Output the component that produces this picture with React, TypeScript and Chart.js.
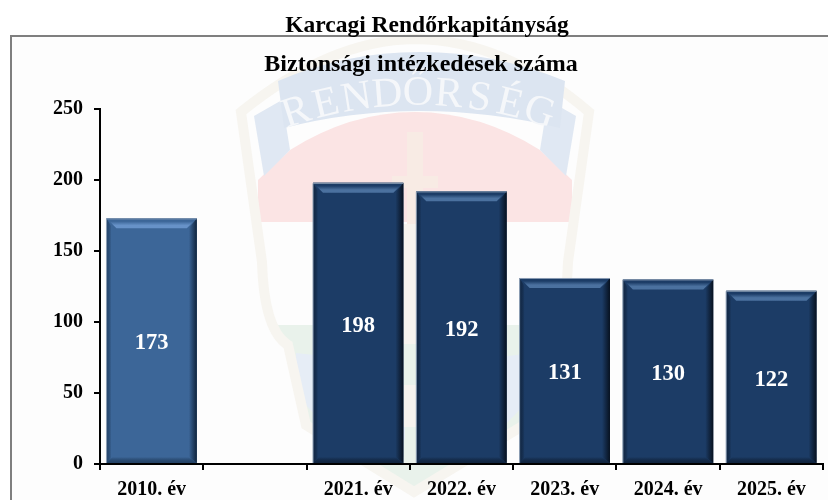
import React, { useEffect, useRef } from "react";
import { Chart, registerables } from "chart.js";

Chart.register(...registerables);

const categories = ["2010. év", "", "2021. év", "2022. év", "2023. év", "2024. év", "2025. év"];
const measures = [173, null, 198, 192, 131, 130, 122];
const barColors = ["#3c6698", "#3c6698", "#1c3c66", "#1c3c66", "#1c3c66", "#1c3c66", "#1c3c66"];
const bandColors = ["#6792c8", "#6792c8", "#4b719f", "#4b719f", "#4b719f", "#4b719f", "#4b719f"];
const edgeColors = ["#10243c", "#10243c", "#07111f", "#07111f", "#07111f", "#07111f", "#07111f"];
const headerText = "Karcagi Rendőrkapitányság";
const titleText = "Biztonsági intézkedések száma";
const crestText = "RENDŐRSÉG";
const yTicks = [0, 50, 100, 150, 200, 250];
const SERIF = "'Liberation Serif', 'Times New Roman', serif";

const path = (ctx: CanvasRenderingContext2D, pts: number[][]) => {
  ctx.beginPath();
  pts.forEach((p, i) => (i ? ctx.lineTo(p[0], p[1]) : ctx.moveTo(p[0], p[1])));
  ctx.closePath();
};

const backdrop = {
  id: "backdrop",
  beforeDraw(chart: any) {
    const ctx: CanvasRenderingContext2D = chart.ctx;
    ctx.save();
    ctx.fillStyle = "#ffffff";
    ctx.fillRect(0, 0, 828, 500);
    ctx.fillStyle = "#fdfdfd";
    ctx.fillRect(11, 35, 817, 465);
    const shield = () => {
      ctx.beginPath();
      ctx.moveTo(241, 112);
      ctx.quadraticCurveTo(330, 40, 415, 39);
      ctx.quadraticCurveTo(505, 40, 589, 112);
      ctx.lineTo(568, 262);
      ctx.quadraticCurveTo(566, 330, 540, 345);
      ctx.lineTo(524, 425);
      ctx.lineTo(414, 492);
      ctx.lineTo(306, 425);
      ctx.lineTo(288, 345);
      ctx.quadraticCurveTo(264, 330, 262, 262);
      ctx.closePath();
    };
    ctx.save();
    shield();
    ctx.clip();
    ctx.fillStyle = "#e9f2eb";
    ctx.fillRect(240, 325, 350, 170);
    ctx.fillStyle = "#e6edf6";
    path(ctx, [[296, 353], [340, 358], [405, 410], [405, 440], [330, 430], [296, 395]]);
    ctx.fill();
    path(ctx, [[534, 353], [490, 358], [425, 410], [425, 440], [500, 430], [534, 395]]);
    ctx.fill();
    ctx.fillStyle = "#fbe4e4";
    ctx.beginPath();
    ctx.moveTo(258, 180);
    ctx.lineTo(290, 150);
    ctx.quadraticCurveTo(350, 112, 415, 112);
    ctx.quadraticCurveTo(480, 112, 540, 150);
    ctx.lineTo(572, 180);
    ctx.lineTo(572, 222);
    ctx.lineTo(258, 222);
    ctx.closePath();
    ctx.fill();
    ctx.restore();
    ctx.fillStyle = "#f8ebe4";
    ctx.fillRect(407, 132, 16, 92);
    ctx.fillRect(392, 176, 46, 12);
    ctx.fillStyle = "#f6f3ee";
    ctx.fillRect(403, 224, 14, 120);
    ctx.fillRect(404, 385, 12, 42);
    shield();
    ctx.strokeStyle = "#f7f5f0";
    ctx.lineWidth = 10;
    ctx.stroke();
    ctx.fillStyle = "#e0e8f3";
    path(ctx, [[254, 116], [282, 100], [290, 150], [264, 176]]);
    ctx.fill();
    path(ctx, [[576, 116], [548, 100], [540, 150], [566, 176]]);
    ctx.fill();
    ctx.fillStyle = "#dce5f1";
    ctx.beginPath();
    ctx.moveTo(278, 81);
    ctx.quadraticCurveTo(345, 52, 420, 52);
    ctx.quadraticCurveTo(495, 52, 565, 81);
    ctx.lineTo(560, 128);
    ctx.quadraticCurveTo(490, 111, 420, 111);
    ctx.quadraticCurveTo(350, 111, 284, 128);
    ctx.closePath();
    ctx.fill();
    ctx.fillStyle = "#f5f7fa";
    ctx.font = `42px ${SERIF}`;
    ctx.textAlign = "center";
    ctx.textBaseline = "alphabetic";
    const cx = 418;
    const cy = 492;
    const radius = 387;
    const letters = Array.from(crestText);
    letters.forEach((ch, i) => {
      const a = (i - (letters.length - 1) / 2) * 0.0775;
      ctx.save();
      ctx.translate(cx + Math.sin(a) * radius, cy - Math.cos(a) * radius);
      ctx.rotate(a);
      ctx.fillText(ch, 0, 0);
      ctx.restore();
    });
    ctx.restore();
  },
};

const bevelAndLabels = {
  id: "bevelAndLabels",
  afterDatasetsDraw(chart: any) {
    const ctx: CanvasRenderingContext2D = chart.ctx;
    const meta = chart.getDatasetMeta(0);
    meta.data.forEach((bar: any, i: number) => {
      const v = measures[i];
      if (v == null) return;
      const { x, y, base, width } = bar.getProps(["x", "y", "base", "width"], true);
      const l = x - width / 2;
      const r = x + width / 2;
      const b = base;
      const s = 10;
      ctx.save();
      let g = ctx.createLinearGradient(0, y, 0, y + s);
      g.addColorStop(0, barColors[i]);
      g.addColorStop(0.3, barColors[i]);
      g.addColorStop(0.7, bandColors[i]);
      g.addColorStop(1, bandColors[i]);
      ctx.fillStyle = g;
      path(ctx, [[l, y], [r, y], [r - s, y + s], [l + s, y + s]]);
      ctx.fill();
      g = ctx.createLinearGradient(r - 8, 0, r, 0);
      g.addColorStop(0, barColors[i]);
      g.addColorStop(1, edgeColors[i]);
      ctx.fillStyle = g;
      path(ctx, [[r, y], [r, b], [r - 8, b - 6], [r - 8, y + s]]);
      ctx.fill();
      g = ctx.createLinearGradient(l, 0, l + 5, 0);
      g.addColorStop(0, edgeColors[i] + "66");
      g.addColorStop(1, barColors[i]);
      ctx.fillStyle = g;
      path(ctx, [[l, y], [l + 6, y + s], [l + 6, b - 6], [l, b]]);
      ctx.fill();
      g = ctx.createLinearGradient(0, b - 6, 0, b);
      g.addColorStop(0, barColors[i]);
      g.addColorStop(1, edgeColors[i] + "88");
      ctx.fillStyle = g;
      path(ctx, [[l + 6, b - 6], [r - 8, b - 6], [r, b], [l, b]]);
      ctx.fill();
      ctx.strokeStyle = "#8b9db3";
      ctx.lineWidth = 1;
      ctx.beginPath();
      ctx.moveTo(l, b);
      ctx.lineTo(l, y + 0.5);
      ctx.lineTo(r, y + 0.5);
      ctx.stroke();
      ctx.fillStyle = "#ffffff";
      ctx.font = `bold 22.5px ${SERIF}`;
      ctx.textAlign = "center";
      ctx.textBaseline = "middle";
      ctx.fillText(String(v), x, (y + b) / 2 + 3);
      ctx.restore();
    });
  },
  afterDraw(chart: any) {
    const ctx: CanvasRenderingContext2D = chart.ctx;
    ctx.save();
    ctx.fillStyle = "#7f7f7f";
    ctx.fillRect(10, 35, 818, 2);
    ctx.fillRect(10, 35, 2, 465);
    ctx.fillStyle = "#000000";
    ctx.font = `bold 23.5px ${SERIF}`;
    ctx.textAlign = "center";
    ctx.textBaseline = "alphabetic";
    ctx.fillText(headerText, 427, 32);
    ctx.restore();
  },
};

export default function App() {
  const ref = useRef<HTMLCanvasElement | null>(null);
  useEffect(() => {
    document.body.style.margin = "0";
    const chart = new Chart(ref.current!, {
      type: "bar",
      data: {
        labels: categories,
        datasets: [
          {
            data: measures as any,
            backgroundColor: barColors,
            barPercentage: 0.875,
            categoryPercentage: 1,
          },
        ],
      },
      plugins: [backdrop, bevelAndLabels],
      options: {
        responsive: false,
        animation: false,
        layout: { padding: { left: 19, right: 5, top: 50, bottom: 0 } },
        plugins: {
          legend: { display: false },
          tooltip: { enabled: false },
          title: {
            display: true,
            text: titleText,
            color: "#000000",
            font: { family: SERIF, size: 24, weight: "bold" },
            padding: { top: 0, bottom: 30.2 },
          },
        },
        scales: {
          x: {
            afterFit: (s: any) => {
              s.height = 36;
            },
            border: { color: "#000000", width: 2 },
            grid: { display: true, drawOnChartArea: false, color: "#000000", lineWidth: 2, tickLength: 6, offset: true },
            ticks: { color: "#000000", font: { family: SERIF, size: 20, weight: "bold" }, maxRotation: 0, autoSkip: false, padding: 8 },
          },
          y: {
            min: 0,
            max: 250,
            afterFit: (s: any) => {
              s.width = 81;
            },
            afterBuildTicks: (s: any) => {
              s.ticks = yTicks.map((value) => ({ value }));
            },
            border: { color: "#000000", width: 2 },
            grid: { display: true, drawOnChartArea: false, color: "#000000", lineWidth: 2, tickLength: 6 },
            ticks: { color: "#000000", font: { family: SERIF, size: 20, weight: "bold" }, padding: 11 },
          },
        },
      },
    } as any);
    return () => chart.destroy();
  }, []);
  return <canvas ref={ref} width={828} height={500} style={{ display: "block" }} />;
}
